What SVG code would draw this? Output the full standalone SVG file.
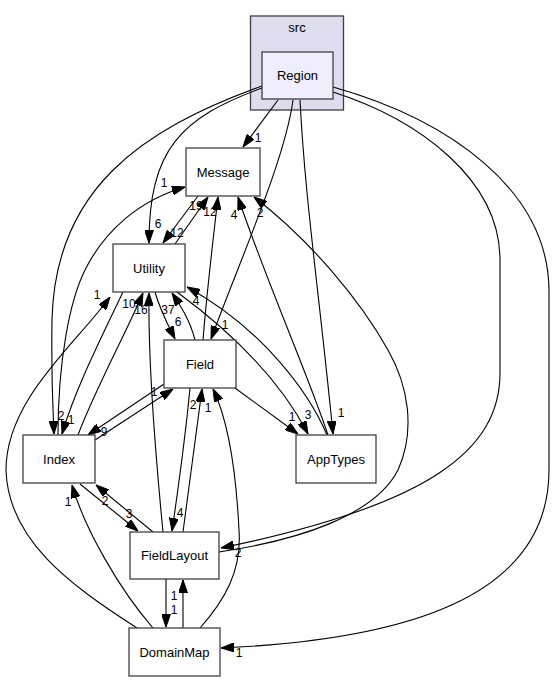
<svg xmlns="http://www.w3.org/2000/svg" width="556" height="681" viewBox="0 0 556 681">
<style>
.node rect{fill:#ffffff;stroke:#404040;stroke-width:1.3}
.node text,.cl text{font-family:"Liberation Sans",Arial,sans-serif;font-size:13px;fill:#000;text-anchor:middle}
.edges path{fill:none;stroke:#000;stroke-width:1.1;marker-end:url(#ah)}
.edges text{font-family:"Liberation Sans",Arial,sans-serif;font-size:12px;fill:#000;text-anchor:middle}
</style>
<defs>
<marker id="ah" markerUnits="userSpaceOnUse" markerWidth="13" markerHeight="9" refX="13" refY="4.5" orient="auto" viewBox="0 0 13 9">
<path d="M0,0 L13,4.5 L0,9 z" fill="#000" stroke="#000" stroke-width="1"/>
</marker>
</defs>
<rect width="556" height="681" fill="#ffffff"/>
<g id="cluster_src" class="cl">
<rect x="250.5" y="16" width="93" height="94" fill="#ddddee" stroke="#404040" stroke-width="1.3"/>
<text x="297" y="32">src</text>
</g>
<g class="edges" id="edges">
<path d="M278,100 L243,147"/><text x="258" y="142">1</text>
<path d="M262,88 C180,118 149,150 149,243"/><text x="158" y="228">6</text>
<path d="M262,86 C140,130 55,190 52,320 C51,380 53,410 54,434"/><text x="61" y="420">2</text>
<path d="M293,100 C285,160 240,260 211,339"/><text x="225" y="329">1</text>
<path d="M300,100 C305,200 320,300 333,434"/><text x="341" y="417">1</text>
<path d="M333,92 C420,120 500,180 500,260 L500,373 C500,450 430,505 221,548"/><text x="238" y="557">2</text>
<path d="M333,87 C450,120 548,190 549,290 L549,470 C549,600 400,640 221,648"/><text x="239" y="657">1</text>
<path d="M198,196 L163,243"/><text x="177" y="237">12</text>
<path d="M175,244 L208,197"/><text x="196" y="210">19</text>
<path d="M203,340 C207,290 213,240 218,197"/><text x="210" y="216">12</text>
<path d="M328,435 C310,380 262,270 238,197"/><text x="234" y="219">4</text>
<path d="M219,552 C300,540 375,515 398,470 C416,430 408,385 388,350 C360,300 310,240 254,197"/><text x="260" y="217">2</text>
<path d="M58,435 C58,360 70,300 85,270 C105,230 140,200 185,187"/><text x="164" y="187">1</text>
<path d="M123,292 C100,340 75,390 62,434"/><text x="71" y="424">1</text>
<path d="M78,435 C95,390 125,335 143,293"/><text x="129" y="308">10</text>
<path d="M163,532 C155,450 148,360 149,293"/><text x="141" y="314">16</text>
<path d="M195,340 C190,320 180,305 172,293"/><text x="168" y="314">37</text>
<path d="M155,292 C160,310 168,325 175,339"/><text x="178" y="326">6</text>
<path d="M327,435 C310,395 265,330 187,287"/><text x="196" y="305">4</text>
<path d="M177,292 C215,320 275,370 308,434"/><text x="308" y="419">3</text>
<path d="M137,628 C70,585 8,540 6,470 C6,400 75,345 110,297"/><text x="97" y="299">1</text>
<path d="M235,388 L298,434"/><text x="292" y="421">1</text>
<path d="M164,384 L88,435"/><text x="104" y="436">9</text>
<path d="M95,440 L173,389"/><text x="154" y="396">1</text>
<path d="M190,388 C185,440 178,490 172,531"/><text x="180" y="517">4</text>
<path d="M183,532 C190,480 197,430 202,389"/><text x="193" y="409">2</text>
<path d="M200,628 C225,600 242,570 239,530 C236,470 228,420 213,389"/><text x="208" y="412">1</text>
<path d="M80,484 L138,531"/><text x="129" y="518">3</text>
<path d="M153,532 L96,485"/><text x="105" y="505">2</text>
<path d="M153,628 C120,590 85,530 72,485"/><text x="68" y="506">1</text>
<path d="M166,579 L166,627"/><text x="174" y="614">1</text>
<path d="M183,628 L183,580"/><text x="174" y="600">1</text>
</g>
<g id="node_Region" class="node">
<rect x="262" y="52" width="71" height="47" style="fill:#eeeeff"/>
<text x="297.5" y="79.5">Region</text>
</g>
<g id="node_Message" class="node">
<rect x="186" y="148" width="74" height="48"/>
<text x="223" y="176.5">Message</text>
</g>
<g id="node_Utility" class="node">
<rect x="113" y="244" width="72" height="48"/>
<text x="149" y="272.5">Utility</text>
</g>
<g id="node_Field" class="node">
<rect x="164" y="340" width="72" height="48"/>
<text x="200" y="368.5">Field</text>
</g>
<g id="node_Index" class="node">
<rect x="23" y="435" width="72" height="48"/>
<text x="59" y="463.5">Index</text>
</g>
<g id="node_AppTypes" class="node">
<rect x="296" y="435" width="80" height="48"/>
<text x="336" y="463.5">AppTypes</text>
</g>
<g id="node_FieldLayout" class="node">
<rect x="130" y="532" width="89" height="47"/>
<text x="174.5" y="560">FieldLayout</text>
</g>
<g id="node_DomainMap" class="node">
<rect x="129" y="628" width="91" height="48"/>
<text x="174.5" y="656.5">DomainMap</text>
</g>
</svg>
